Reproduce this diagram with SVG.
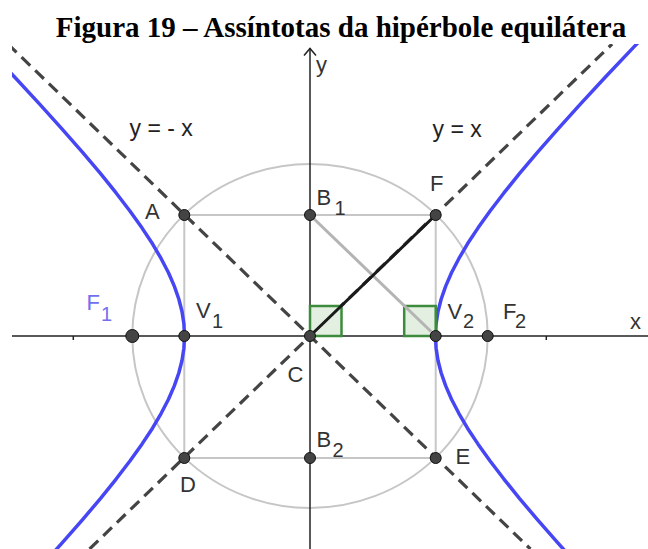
<svg xmlns="http://www.w3.org/2000/svg" width="648" height="549" viewBox="0 0 648 549">
<style>
.lbl{font-family:"Liberation Sans",Arial,sans-serif;font-size:22px;fill:#333}
.sub{font-family:"Liberation Sans",Arial,sans-serif;font-size:20px;fill:#333}
.eq{font-family:"Liberation Sans",Arial,sans-serif;font-size:23px;fill:#222}
.title{font-family:"Liberation Serif","Times New Roman",serif;font-size:29px;font-weight:bold;fill:#000}
.pt{fill:#444;stroke:#111;stroke-width:1}
.gray{stroke:#c6c6c6;stroke-width:2;fill:none}
.asym{stroke:#444;stroke-width:3.2;stroke-dasharray:12 7;fill:none}
.hyp{stroke:#4646f5;stroke-width:3.5;fill:none;stroke-linejoin:round}
.axis{stroke:#222;stroke-width:1.5;fill:none}
.ra{fill:#e3efe1;stroke:#3d8b3d;stroke-width:2.5}
</style>
<defs>
<clipPath id="plot"><rect x="12" y="44" width="636" height="505"/></clipPath>
</defs>
<rect x="0" y="0" width="648" height="549" fill="#fff"/>
<text class="title" x="341" y="37" text-anchor="middle">Figura 19 – Assíntotas da hipérbole equilátera</text>
<g id="connectors" clip-path="url(#plot)">
<ellipse class="gray" cx="310" cy="336" rx="177.7" ry="172"/>
<g id="square">
<polyline class="gray" points="184.3,215 435.7,215 435.7,458 184.3,458 184.3,215"/>
</g>
<line class="asym" x1="7.9" y1="44" x2="530.4" y2="549"/>
<line class="asym" x1="89.6" y1="549" x2="612.1" y2="44"/>
<polyline class="hyp" points="664.9,14.6 633.5,47.4 605.2,77.3 579.9,104.6 557.4,129.7 537.2,152.6 519.4,173.7 503.7,193.2 489.9,211.3 477.9,228.1 467.5,243.8 458.8,258.7 451.5,272.7 445.7,286.1 441.2,299.0 438.0,311.5 436.1,323.8 435.5,336 436.1,348.2 438.0,360.5 441.2,373.0 445.7,385.9 451.5,399.3 458.8,413.3 467.5,428.2 477.9,443.9 489.9,460.7 503.7,478.8 519.4,498.3 537.2,519.4 557.4,542.4 579.9,567.4"/>
<polyline class="hyp" points="-44.9,14.6 -13.5,47.4 14.8,77.3 40.1,104.6 62.6,129.7 82.8,152.6 100.6,173.7 116.3,193.2 130.1,211.3 142.1,228.1 152.5,243.8 161.2,258.7 168.5,272.7 174.3,286.1 178.8,299.0 182.0,311.5 183.9,323.8 184.5,336 183.9,348.2 182.0,360.5 178.8,373.0 174.3,385.9 168.5,399.3 161.2,413.3 152.5,428.2 142.1,443.9 130.1,460.7 116.3,478.8 100.6,498.3 82.8,519.4 62.6,542.4 40.1,567.4"/>
<g id="axes">
<line class="axis" x1="12" y1="336" x2="648" y2="336"/>
<line class="axis" x1="310" y1="48" x2="310" y2="549"/>
<polyline class="axis" points="304,55.5 310,48.5 316,55.5"/>
<line class="axis" x1="73.3" y1="336" x2="73.3" y2="340" stroke-width="1"/>
<line class="axis" x1="546.3" y1="336" x2="546.3" y2="340" stroke-width="1"/>
</g>
<rect class="ra" x="310" y="306" width="31.5" height="30"/>
<rect class="ra" x="404.2" y="306" width="31.5" height="30"/>
<line x1="310" y1="215" x2="435.7" y2="336" stroke="#b4b4b4" stroke-width="3"/>
<line x1="310" y1="336" x2="435.7" y2="215" stroke="#1a1a1a" stroke-width="3"/>
</g>
<g id="A"><circle class="pt" cx="184.3" cy="215" r="5.5"/><text class="lbl" x="145" y="219">A</text></g>
<g id="B1"><circle class="pt" cx="310" cy="215" r="5.5"/><text class="lbl" x="316.5" y="205">B</text><text class="sub" x="334.5" y="215">1</text></g>
<g id="F"><circle class="pt" cx="435.7" cy="215" r="5.5"/><text class="lbl" x="430" y="191">F</text></g>
<g id="V1"><circle class="pt" cx="184.3" cy="336" r="5.5"/><text class="lbl" x="196" y="318">V</text><text class="sub" x="212" y="328">1</text></g>
<g id="C"><circle class="pt" cx="310" cy="336" r="5.5"/><text class="lbl" x="287.5" y="382">C</text></g>
<g id="V2"><circle class="pt" cx="435.7" cy="336" r="5.5"/><text class="lbl" x="447.5" y="319">V</text><text class="sub" x="463" y="328">2</text></g>
<g id="F1"><circle class="pt" cx="132.3" cy="336" r="6.5" stroke-width="2"/><text class="lbl" x="86.5" y="310" style="fill:#7070ee">F</text><text class="sub" x="101" y="321" style="fill:#7070ee">1</text></g>
<g id="F2"><circle class="pt" cx="487.7" cy="336" r="5.5"/><text class="lbl" x="503" y="319">F</text><text class="sub" x="515" y="328">2</text></g>
<g id="D"><circle class="pt" cx="184.3" cy="458" r="5.5"/><text class="lbl" x="180" y="492">D</text></g>
<g id="B2"><circle class="pt" cx="310" cy="458" r="5.5"/><text class="lbl" x="316.5" y="447">B</text><text class="sub" x="332.5" y="457">2</text></g>
<g id="E"><circle class="pt" cx="435.7" cy="458" r="5.5"/><text class="lbl" x="455.5" y="464">E</text></g>
<g id="axis-labels">
<text class="lbl" x="630" y="329">x</text>
<text class="lbl" x="316" y="72">y</text>
</g>
<g id="eq-labels">
<text class="eq" x="129.5" y="136" xml:space="preserve">y = - x</text>
<text class="eq" x="432.5" y="136.5" xml:space="preserve">y = x</text>
</g>
</svg>
